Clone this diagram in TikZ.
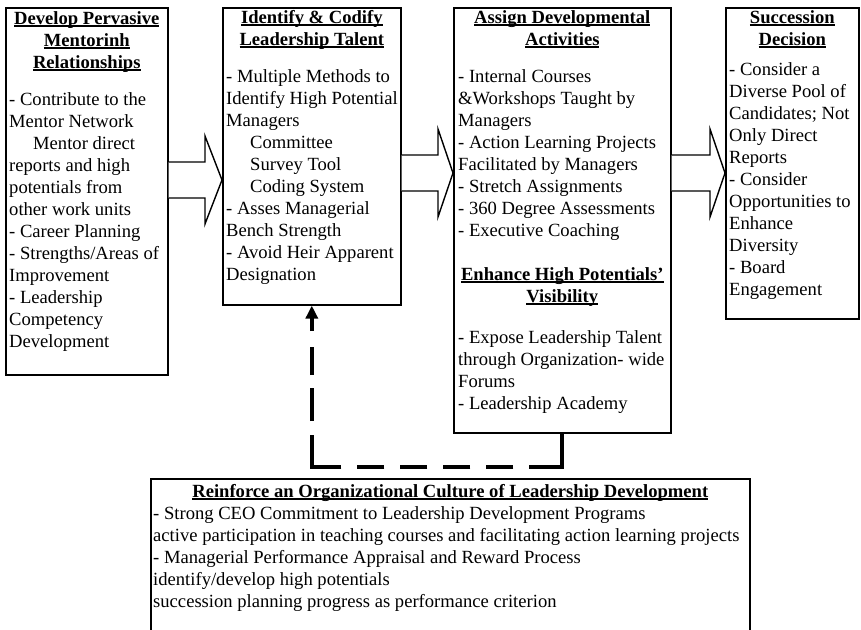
\documentclass[tikz,border=0pt]{standalone}
\usepackage{fontspec}
\setmainfont{Liberation Serif}
\usetikzlibrary{calc,arrows.meta}

% underline drawn just under the baseline, crossing descenders
\newcommand\ulhead[1]{\setbox0\hbox{#1}\rlap{\rule[-2.4pt]{\wd0}{1.3pt}}\box0}

\tikzset{
  box/.style={draw, line width=1.6pt, inner sep=0pt, anchor=north west},
  bodytext/.style={anchor=north west, inner sep=0pt, align=left,
    font=\fontsize{18.6}{22}\selectfont},
  headtext/.style={anchor=north, inner sep=0pt, align=center,
    font=\fontsize{18.6}{22}\selectfont\bfseries},
  blockarrow/.style={draw, line width=1.4pt, fill=white, line join=miter},
  feedback/.style={line width=3.8pt,
    dash pattern=on 66pt off 16pt on 27pt off 16pt on 27pt off 16pt on 27pt off 16pt
      on 27pt off 16pt on 61pt off 14pt on 33pt off 13pt on 28pt off 16pt on 60pt,
    -{Triangle[length=13pt,width=12pt]}},
}

\begin{document}
\begin{tikzpicture}[x=1pt,y=-1pt]
\useasboundingbox (0,0) rectangle (861,629);
\fill[white] (0,0) rectangle (861,629);

% the four stages
\node[box, minimum width=162pt, minimum height=367pt] (b1) at (5,7) {};
\node[box, minimum width=178pt, minimum height=297pt] (b2) at (222,7) {};
\node[box, minimum width=217pt, minimum height=425pt] (b3) at (453,7) {};
\node[box, minimum width=133pt, minimum height=311pt] (b4) at (725,7) {};
% culture box along the bottom
\node[box, minimum width=599pt, minimum height=190pt] (b5) at (150,478) {};

% stage 1
\node[headtext] (h1) at ($(b1.north)+(0,4)$)
  {\ulhead{Develop Pervasive}\\ \ulhead{Mentorinh}\\ \ulhead{Relationships}};
\node[bodytext] (t1) at ($(b1.north west)+(4,85)$)
  {- Contribute to the\\ Mentor Network\\ \hspace*{24pt}Mentor direct\\ reports and high\\
   potentials from\\ other work units\\ - Career Planning\\ - Strengths/Areas of\\
   Improvement\\ - Leadership\\ Competency\\ Development};

% stage 2
\node[headtext] (h2) at ($(b2.north)+(0,3)$)
  {\ulhead{Identify \& Codify}\\ \ulhead{Leadership Talent}};
\node[bodytext] (t2) at ($(b2.north west)+(4,62)$)
  {- Multiple Methods to\\ Identify High Potential\\ Managers\\
   \hspace*{24pt}Committee\\ \hspace*{24pt}Survey Tool\\ \hspace*{24pt}Coding System\\
   - Asses Managerial\\ Bench Strength\\ - Avoid Heir Apparent\\ Designation};

% stage 3
\node[headtext] (h3) at ($(b3.north)+(0,3)$)
  {\ulhead{Assign Developmental}\\ \ulhead{Activities}};
\node[bodytext] (t3) at ($(b3.north west)+(5,62)$)
  {- Internal Courses\\ \&Workshops Taught by\\ Managers\\ - Action Learning Projects\\
   Facilitated by Managers\\ - Stretch Assignments\\ - 360 Degree Assessments\\
   - Executive Coaching};
\node[headtext] (h3b) at ($(b3.north)+(0,260)$)
  {\ulhead{Enhance High Potentials'}\\ \ulhead{Visibility}};
\node[bodytext] (t3b) at ($(b3.north west)+(5,323)$)
  {- Expose Leadership Talent\\ through Organization- wide\\ Forums\\ - Leadership Academy};

% stage 4
\node[headtext] (h4) at ($(b4.north)+(0,3)$)
  {\ulhead{Succession}\\ \ulhead{Decision}};
\node[bodytext] (t4) at ($(b4.north west)+(4,55)$)
  {- Consider a\\ Diverse Pool of\\ Candidates; Not\\ Only Direct\\ Reports\\
   - Consider\\ Opportunities to\\ Enhance\\ Diversity\\ - Board\\ Engagement};

% culture box
\node[headtext] (h5) at ($(b5.north)+(0,6)$)
  {\ulhead{Reinforce an Organizational Culture of Leadership Development}};
\node[bodytext] (t5) at ($(b5.north west)+(3,28)$)
  {- Strong CEO Commitment to Leadership Development Programs\\
   active participation in teaching courses and facilitating action learning projects\\
   - Managerial Performance Appraisal and Reward Process\\
   identify/develop high potentials\\
   succession planning progress as performance criterion};

% block arrows between the stages
\draw[blockarrow] ($(b1.north east)+(0,155)$) -- ($(b2.north west)+(-17,155)$)
  -- ($(b2.north west)+(-17,129)$) -- ($(b2.north west)+(0,173)$)
  -- ($(b2.north west)+(-17,217)$) -- ($(b2.north west)+(-17,191)$)
  -- ($(b1.north east)+(0,191)$);
\draw[blockarrow] ($(b2.north east)+(0,148)$) -- ($(b3.north west)+(-15,148)$)
  -- ($(b3.north west)+(-15,122)$) -- ($(b3.north west)+(0,166)$)
  -- ($(b3.north west)+(-15,210)$) -- ($(b3.north west)+(-15,184)$)
  -- ($(b2.north east)+(0,184)$);
\draw[blockarrow] ($(b3.north east)+(0,148)$) -- ($(b4.north west)+(-15,148)$)
  -- ($(b4.north west)+(-15,122)$) -- ($(b4.north west)+(0,166)$)
  -- ($(b4.north west)+(-15,210)$) -- ($(b4.north west)+(-15,184)$)
  -- ($(b3.north east)+(0,184)$);

% feedback loop from stage 3 back to stage 2
\draw[feedback] (b3.south) -- ++(0,33) -| (b2.south);
\end{tikzpicture}
\end{document}
